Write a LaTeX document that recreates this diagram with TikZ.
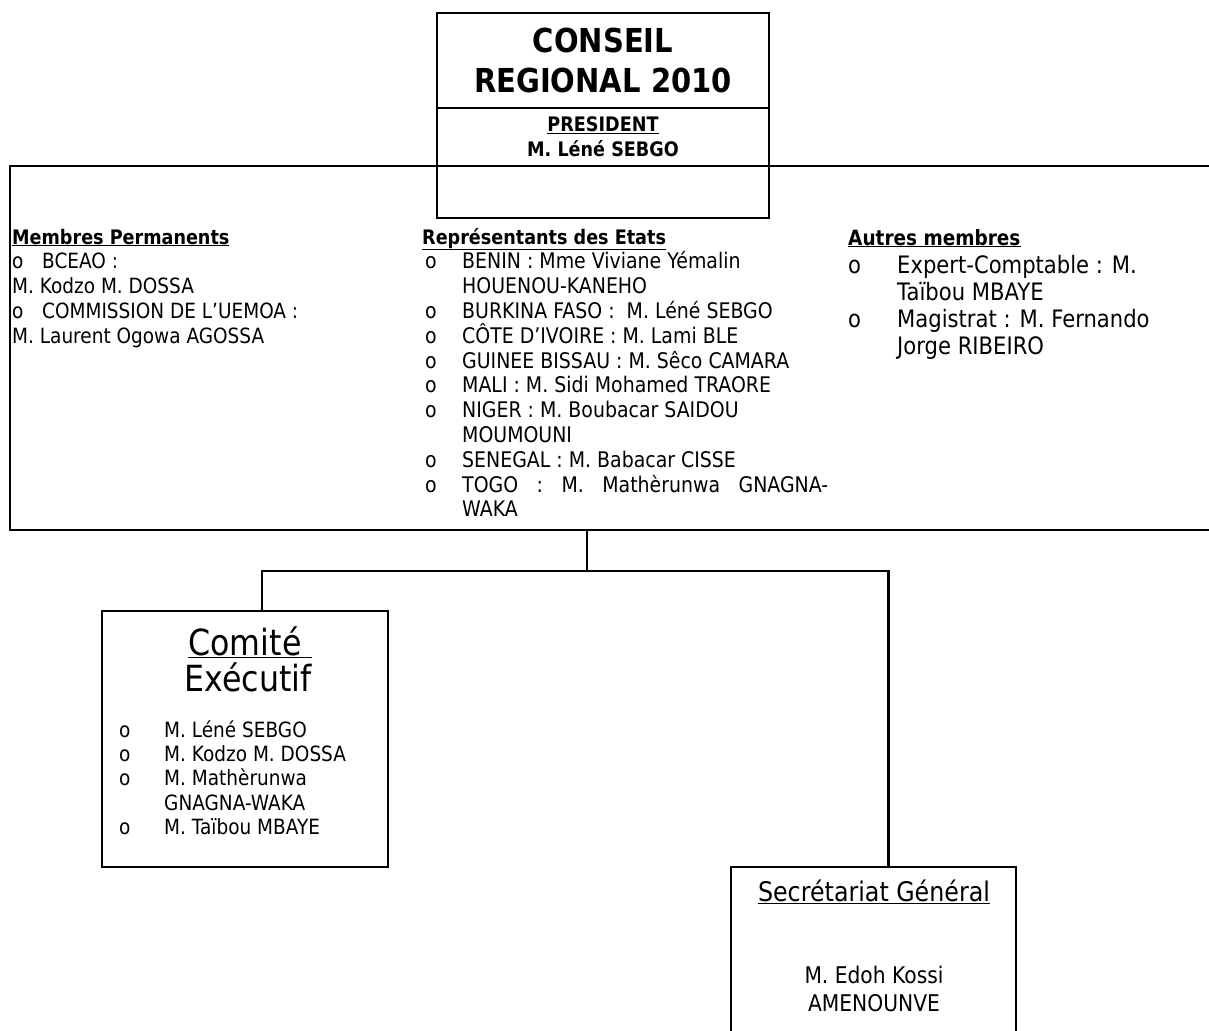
\documentclass[tikz,border=0pt]{standalone}
\usepackage{fontspec}
\setmainfont{DejaVu Sans}[FakeStretch=0.88]
\usetikzlibrary{positioning}

\tikzset{
  cadre/.style={draw, line width=2.4pt, outer sep=0pt, inner sep=0pt},
  lien/.style={draw, line width=2.4pt},
  entete/.style={anchor=base west, inner sep=0pt, font=\bfseries\fontsize{20}{24}\selectfont},
  ligne/.style={anchor=base west, inner sep=0pt, font=\fontsize{21.5}{24}\selectfont},
  grande/.style={anchor=base west, inner sep=0pt, font=\fontsize{24}{27}\selectfont},
}
\newcommand\puce[1][37pt]{\makebox[#1][l]{o}}

\begin{document}
\begin{tikzpicture}[x=1pt, y=-1pt]
\useasboundingbox (0,0) rectangle (1209,1030);
\clip (0,0) rectangle (1209,1030);

% grand cadre du conseil
\node[cadre, anchor=north west, minimum width=1230pt, minimum height=364pt] (cadre) at (10,166) {};

% conseil regional
\node[cadre, anchor=north, minimum width=332pt, minimum height=95pt, align=center,
  font=\bfseries\fontsize{33}{40}\selectfont] (conseil) at (603,13) {CONSEIL\\REGIONAL 2010};
\node[cadre, below=0pt of conseil, minimum width=332pt, minimum height=58pt, align=center,
  font=\bfseries\fontsize{20}{25}\selectfont] (president) {\underline{PRESIDENT}\\M. Léné SEBGO};
\node[cadre, below=0pt of president, minimum width=332pt, minimum height=52pt] (presvide) {};

% membres permanents
\node[entete] (perm) at (12,244) {\underline{Membres Permanents}};
\foreach \t [count=\i] in {
  {\puce[30pt]BCEAO :},
  {M. Kodzo M. DOSSA},
  {\puce[30pt]COMMISSION DE L’UEMOA :},
  {M. Laurent Ogowa AGOSSA}
} \node[ligne, font=\fontsize{21}{24}\selectfont] (perm-\i) at (12, 244+\i*24.8) {\t};

% representants des etats
\node[entete] (etats) at (422,244) {\underline{Représentants des Etats}};
\foreach \t [count=\i] in {
  {\puce BENIN : Mme Viviane Yémalin},
  {\hspace*{37pt}HOUENOU-KANEHO},
  {\puce BURKINA FASO :\ \ M. Léné SEBGO},
  {\puce CÔTE D’IVOIRE : M. Lami BLE},
  {\puce GUINEE BISSAU : M. Sêco CAMARA},
  {\puce MALI : M. Sidi Mohamed TRAORE},
  {\puce NIGER : M. Boubacar SAIDOU},
  {\hspace*{37pt}MOUMOUNI},
  {\puce SENEGAL : M. Babacar CISSE},
  {\puce\hbox to 366pt{TOGO\hfill:\hfill M.\hfill Mathèrunwa\hfill GNAGNA-}},
  {\hspace*{37pt}WAKA}
} \node[ligne] (etat-\i) at (425, 244+\i*24.8) {\t};

% autres membres
\node[entete, font=\bfseries\fontsize{21}{25}\selectfont] (autres) at (848,245) {\underline{Autres membres}};
\foreach \t [count=\i] in {
  {\puce[49pt]Expert-Comptable : M.},
  {\hspace*{49pt}Taïbou MBAYE},
  {\puce[49pt]Magistrat : M. Fernando},
  {\hspace*{49pt}Jorge RIBEIRO}
} \node[grande] (autre-\i) at (848, 246+\i*27) {\t};

% comite executif
\node[cadre, anchor=north west, minimum width=286pt, minimum height=256pt] (comite) at (102,611) {};
\node[anchor=base, font=\fontsize{36}{38}\selectfont] (comite-titre) at (250,655) {\underline{Comité\ }};
\node[anchor=base, font=\fontsize{36}{38}\selectfont] (comite-sous) at (248,691) {Exécutif};
\foreach \t [count=\i] in {
  {\puce[45pt]M. Léné SEBGO},
  {\puce[45pt]M. Kodzo M. DOSSA},
  {\puce[45pt]M. Mathèrunwa},
  {\hspace*{45pt}GNAGNA-WAKA},
  {\puce[45pt]M. Taïbou MBAYE}
} \node[ligne, font=\fontsize{21}{24}\selectfont] (comite-\i) at (119, 713+\i*24.3) {\t};

% secretariat general
\node[cadre, anchor=north west, minimum width=285pt, minimum height=200pt] (secretariat) at (731,867) {};
\node[anchor=base, font=\fontsize{27}{30}\selectfont] (secr-titre) at (874,901) {\underline{Secrétariat Général}};
\node[align=center, font=\fontsize{23}{28}\selectfont] (secr-nom) at (874,989) {M. Edoh Kossi\\AMENOUNVE};

% liaisons
\coordinate (noeud) at (587,571);
\draw[lien] (cadre.south -| noeud) -- (noeud);
\draw[lien] ([xshift=17pt]comite.north) |- (noeud) -| ([xshift=15pt]secretariat.north);
\end{tikzpicture}
\end{document}
